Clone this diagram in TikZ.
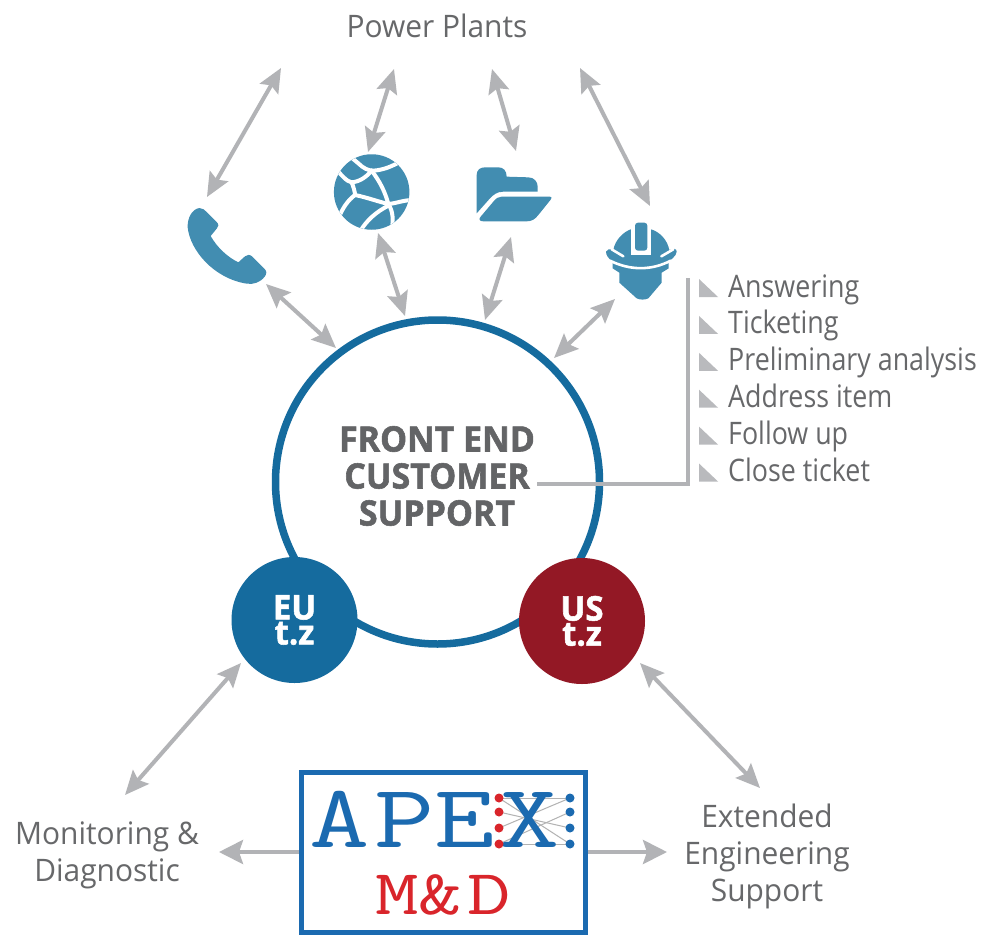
\documentclass[tikz,border=0pt]{standalone}
\usepackage{fontspec}
\usetikzlibrary{arrows.meta}
\setmainfont{Open Sans}
\newfontfamily\listfont[FakeStretch=0.865]{Open Sans}
\newfontfamily\labelfont[FakeStretch=0.965]{Open Sans}
\newfontfamily\heavyfont[FakeBold=1.6,FakeStretch=0.97]{Open Sans}
\definecolor{txt}{HTML}{67686A}
\definecolor{darktxt}{HTML}{636466}
\definecolor{conn}{HTML}{B2B3B6}
\definecolor{tri}{HTML}{B9BABD}
\definecolor{icon}{HTML}{428DB1}
\definecolor{ring}{HTML}{156B9E}
\definecolor{usred}{HTML}{931825}
\definecolor{logob}{HTML}{1B6AB0}
\definecolor{logor}{HTML}{D9252B}
\tikzset{
  link/.style={draw=conn,line width=4pt,{Stealth[length=24pt,width=21pt,inset=4pt]}-{Stealth[length=24pt,width=21pt,inset=4pt]}},
  onelink/.style={draw=conn,line width=4pt,-{Stealth[length=24pt,width=24pt,inset=4pt]}},
  leader/.style={draw=conn,line width=4pt},
  label/.style={text=txt,font=\labelfont\fontsize{31}{37}\selectfont,align=center,inner sep=0pt},
  item/.style={text=txt,font=\listfont\fontsize{31}{37}\selectfont,anchor=base west,inner sep=0pt},
  tz/.style={circle,inner sep=0pt,minimum size=126pt,text=white,align=center,font=\heavyfont\bfseries\fontsize{34}{25}\selectfont},
  iconfill/.style={fill=icon,draw=none},
  cut/.style={draw=white,line cap=round,line join=round},
  marker/.style={fill=tri,draw=none},
}
\begin{document}
\begin{tikzpicture}[x=1pt,y=-1pt]
\useasboundingbox[fill=white] (0,0) rectangle (982,934);

% anchors of the connectors
\coordinate (p1) at (281,68);  \coordinate (ph1) at (207,197);
\coordinate (p2) at (394,69);  \coordinate (gl1) at (368,152);
\coordinate (p3) at (492,69);  \coordinate (fo1) at (516,151);
\coordinate (p4) at (580,68);  \coordinate (he1) at (650,206);
\coordinate (ph2) at (266,284); \coordinate (c1) at (336,348);
\coordinate (gl2) at (378,233); \coordinate (c2) at (405,316);
\coordinate (fo2) at (511,237); \coordinate (c3) at (485,320);
\coordinate (he2) at (615,299); \coordinate (c4) at (554,358);
\coordinate (eu1) at (241,663); \coordinate (md1) at (125,795);
\coordinate (us1) at (640,663); \coordinate (ee1) at (760,788);
\coordinate (lg1) at (300,852); \coordinate (md2) at (219,852);
\coordinate (lg2) at (586,852); \coordinate (ee2) at (667,852);
\coordinate (l1) at (537,484); \coordinate (l2) at (688,484); \coordinate (l3) at (688,278);

% labels
\node[label] (power) at (437,26) {Power Plants};
\node[label] (mond) at (107,855) {Monitoring \&\\Diagnostic};
\node[label] (exte) at (767,856.5) {Extended\\Engineering\\Support};

% main circle
\node[circle,draw=ring,line width=7.5pt,inner sep=0pt,minimum size=324pt,fill=white] (front) at (437.5,482) {};
\node[text=darktxt,align=center,inner sep=0pt,font=\heavyfont\bfseries\fontsize{35}{37}\selectfont] (fronttext) at (437,476) {FRONT END\\CUSTOMER\\SUPPORT};
\node[tz,fill=ring] (eu) at (294.5,620) {EU\\t.z};
\node[tz,fill=usred] (us) at (582,621) {US\\t.z};

% connectors
\draw[link] (p1) -- (ph1);
\draw[link] (p2) -- (gl1);
\draw[link] (p3) -- (fo1);
\draw[link] (p4) -- (he1);
\draw[link] (ph2) -- (c1);
\draw[link] (gl2) -- (c2);
\draw[link] (fo2) -- (c3);
\draw[link] (he2) -- (c4);
\draw[link] (eu1) -- (md1);
\draw[link] (us1) -- (ee1);
\draw[onelink] (lg1) -- (md2);
\draw[onelink] (lg2) -- (ee2);
\draw[leader] (l1) -- (l2) -- (l3);

% list
\foreach \n/\t [count=\i from 0] in {a/Answering,b/Ticketing,c/Preliminary analysis,d/Address item,e/Follow up,f/Close ticket}{
  \pgfmathsetmacro{\yy}{297+36.9*\i}
  \fill[marker] (699,\yy-18) -- (699,\yy) -- (718,\yy) -- cycle;
  \node[item] (item\n) at (728,\yy) {\t};
}

% phone
\begin{scope}[shift={(170,140)},x=1/3*1pt,y=-1/3*1pt]
\node[inner sep=0pt] (phone) at (170,320) {};
\fill[iconfill] (88,204) .. controls (98,204) and (104,210) .. (110,216) -- (140,246) .. controls (147,253) and (146,260) .. (140,266) -- (122,288) .. controls (140,320) and (170,350) .. (205,367) -- (225,349) .. controls (232,343) and (240,343) .. (247,350) -- (284,387) .. controls (291,394) and (290,402) .. (284,410) .. controls (270,428) and (250,434) .. (230,431) .. controls (130,415) and (60,330) .. (53,262) .. controls (52,235) and (65,208) .. (88,204) -- cycle;
% globe
\node[circle,iconfill,inner sep=0pt,minimum size=75.5pt] (globe) at (605,156) {};
\begin{scope}[cut,line width=4pt]
\clip (605,156) circle (113);
\draw (535,45) -- (565,70) .. controls (580,85) and (595,92) .. (610,92) .. controls (640,90) and (665,80) .. (700,60);
\draw (605,92) .. controls (590,110) and (570,125) .. (545,127) .. controls (530,125) and (515,105) .. (495,85);
\draw (545,127) .. controls (550,140) and (555,155) .. (555,165) .. controls (535,180) and (520,200) .. (505,235);
\draw (555,165) .. controls (590,172) and (625,185) .. (655,192) .. controls (680,190) and (700,180) .. (730,180);
\draw (605,92) .. controls (630,125) and (645,155) .. (655,192) .. controls (670,215) and (670,240) .. (665,270);
\draw (570,275) .. controls (590,240) and (620,215) .. (655,197);
\end{scope}
\end{scope}

% folder and helmet
\begin{scope}[shift={(460,150)},x=1/3*1pt,y=-1/3*1pt]
\node[inner sep=0pt] (folder) at (160,130) {};
\fill[iconfill] (50,190) -- (50,75) .. controls (50,60) and (60,52) .. (75,52) -- (115,52) .. controls (130,52) and (140,62) .. (140,80) -- (205,82) .. controls (222,82) and (233,95) .. (233,110) -- (233,125) -- (130,125) .. controls (110,125) and (100,135) .. (90,145) -- cycle;
\fill[iconfill] (125,140) -- (270,140) .. controls (276,140) and (276,145) .. (272,149) -- (235,195) .. controls (225,208) and (215,214) .. (200,214) -- (70,214) .. controls (58,214) and (55,207) .. (62,200) -- (100,155) .. controls (108,145) and (115,140) .. (125,140) -- cycle;
\node[inner sep=0pt] (helmet) at (540,330) {};
\fill[iconfill] (438,305) .. controls (440,298) and (448,296) .. (460,300) .. controls (465,270) and (490,245) .. (515,237) -- (570,237) .. controls (600,245) and (622,270) .. (628,300) .. controls (640,296) and (650,294) .. (650,305) .. controls (650,318) and (630,330) .. (626,336) -- (626,355) -- (605,368) -- (605,398) -- (565,445) .. controls (555,450) and (540,450) .. (530,445) -- (478,398) -- (478,368) -- (458,355) -- (458,336) .. controls (445,325) and (438,315) .. (438,305) -- cycle;
\draw[cut,line width=2.6pt] (455,298) -- (490,319);
\draw[cut,line width=2.6pt] (604,319) -- (640,298);
\draw[cut,line width=2.6pt] (450,332) .. controls (510,362) and (575,362) .. (632,332);
\fill[white] (513,225) rectangle (574,315);
\fill[iconfill,rounded corners=3pt] (525,218) rectangle (562,302);
\end{scope}

% logo
\node[draw=logob,line width=5pt,fill=white,inner sep=0pt,minimum width=284pt,minimum height=160pt] (logo) at (443.5,852) {};
\foreach \a/\b in {798/798,798/844,812/828,828/798,844/812,844/844}{
  \draw[gray!60,line width=1pt] (499,\a) -- (570,\b);
}
\node[text=logob,inner sep=0pt,anchor=base,xscale=1.3,font=\ttfamily\fontsize{90}{90}\selectfont] (apex) at (435,847) {A\kern 3pt P\kern 0pt E\kern 4pt X};
\foreach \y [count=\i] in {798,812,828,844}{
  \node[circle,fill=logor,inner sep=0pt,minimum size=9pt] (r\i) at (499,\y) {};
  \node[circle,fill=logob,inner sep=0pt,minimum size=9pt] (b\i) at (570,\y) {};
}
\node[text=logor,inner sep=0pt,anchor=base,xscale=1.32,font=\ttfamily\fontsize{64}{64}\selectfont] (md) at (443,914) {M\kern 0pt\&\kern 4pt D};
\end{tikzpicture}
\end{document}
